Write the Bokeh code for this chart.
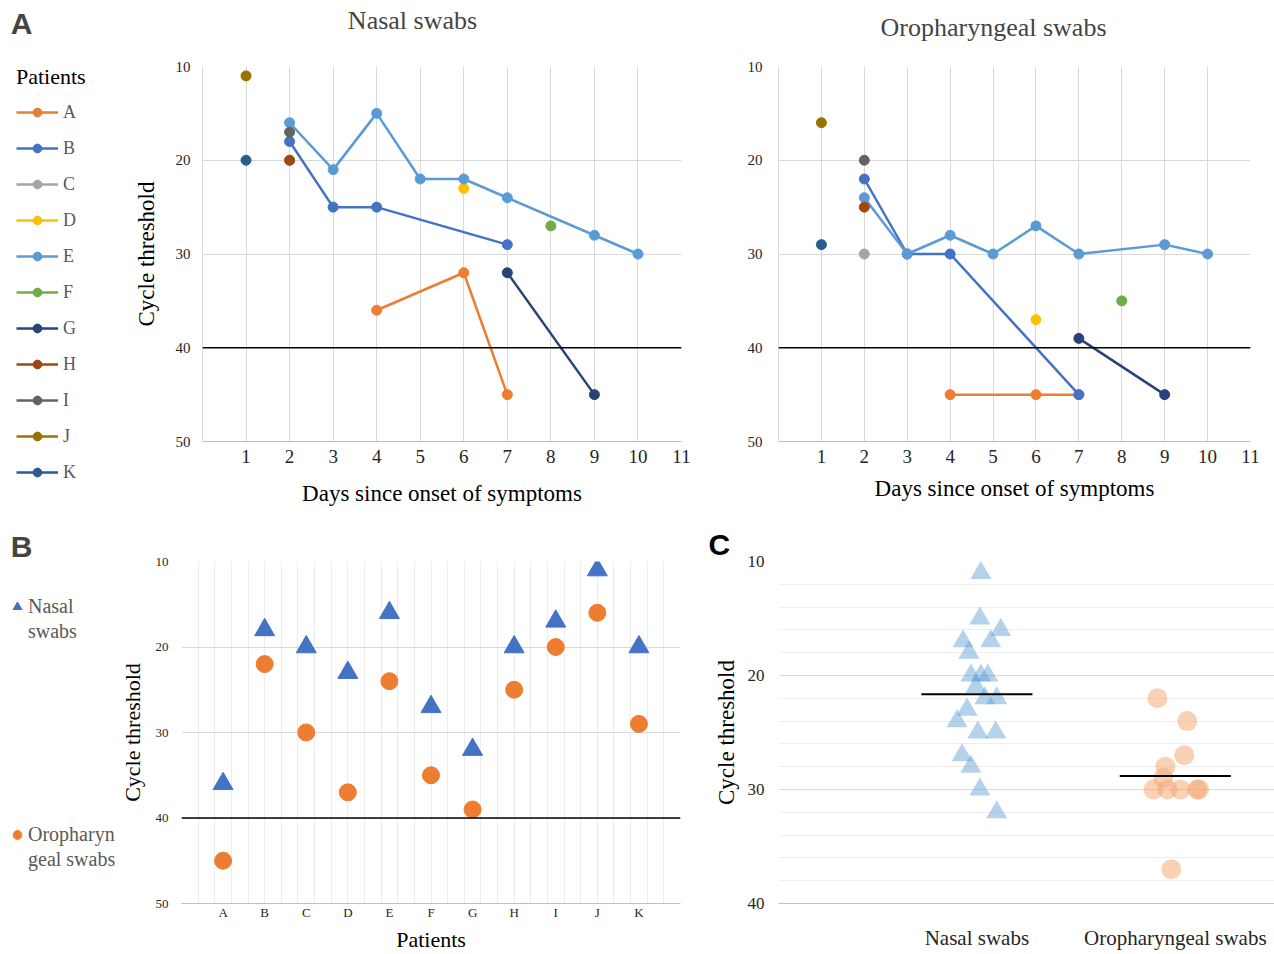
import numpy as np
from bokeh.plotting import figure
from bokeh.models import (Range1d, FixedTicker, SingleIntervalTicker, Span, Label,
                          Legend, LegendItem, Title)
from bokeh.layouts import row, column
from bokeh.embed import file_html
from bokeh.resources import INLINE

# ---------------- data ----------------
patients = ["A", "B", "C", "D", "E", "F", "G", "H", "I", "J", "K"]
patient_colors = ["#ED7D31", "#4472C4", "#A5A5A5", "#FFC000", "#5B9BD5", "#70AD47",
                  "#264478", "#9E480E", "#636363", "#997300", "#255E91"]

# Panel A - nasal swabs (long format)
nasal_patient = ["A", "A", "A", "B", "B", "B", "B", "C", "D",
                 "E", "E", "E", "E", "E", "E", "E", "E", "F", "G", "G", "H", "I", "J", "K"]
nasal_day = [4, 6, 7, 2, 3, 4, 7, 2, 6, 2, 3, 4, 5, 6, 7, 9, 10, 8, 7, 9, 2, 2, 1, 1]
nasal_ct = [36, 32, 45, 18, 25, 25, 29, 20, 23, 16, 21, 15, 22, 22, 24, 28, 30, 27, 32, 45, 20, 17, 11, 20]

# Panel A - oropharyngeal swabs (long format)
oro_patient = ["A", "A", "A", "B", "B", "B", "B", "C", "D",
               "E", "E", "E", "E", "E", "E", "E", "E", "F", "G", "G", "H", "I", "J", "K"]
oro_day = [4, 6, 7, 2, 3, 4, 7, 2, 6, 2, 3, 4, 5, 6, 7, 9, 10, 8, 7, 9, 2, 2, 1, 1]
oro_ct = [45, 45, 45, 22, 30, 30, 45, 30, 37, 24, 30, 28, 30, 27, 30, 29, 30, 35, 39, 45, 25, 20, 16, 29]

# Panel B - per patient
first_nasal_ct = [36, 18, 20, 23, 16, 27, 32, 20, 17, 11, 20]
first_oro_ct = [45, 22, 30, 37, 24, 35, 39, 25, 20, 16, 29]

# Panel C - pooled values
swab_types = ["Nasal swabs", "Oropharyngeal swabs"]
pooled_nasal_ct = [11, 15, 16, 17, 17, 18, 20, 20, 20, 21, 22, 22, 23, 24, 25, 25, 27, 28, 30, 32]
pooled_oro_ct = [22, 24, 27, 28, 29, 30, 30, 30, 30, 30, 37]
# horizontal spread of the swarm (category units)
pooled_nasal_spread = [0.02, 0.015, 0.12, -0.07, 0.07, -0.04, -0.03, 0.02, 0.055, -0.005,
                       0.04, 0.10, -0.05, -0.10, 0.005, 0.095, -0.075, -0.03, 0.015, 0.10]
pooled_oro_spread = [-0.09, 0.06, 0.045, -0.05, -0.06, -0.11, -0.04, 0.025, 0.11, 0.12, -0.02]

day_ticks = list(range(1, 12))
ct_ticks = [10, 20, 30, 40, 50]
detection_limit = 40

# ---------------- style ----------------
SERIF = "Liberation Serif"
SANS = "Liberation Sans"
GRID = "#d9d9d9"
AXIS = "#bfbfbf"
TICK_TXT = "#262626"


def blank(width, height):
    # legend-only canvas; its ranges sit away from the data so only the legend shows
    p = figure(width=width, height=height, x_range=Range1d(1000, 1001), y_range=Range1d(1000, 1001),
               output_backend="svg", toolbar_location=None, tools="",
               x_axis_location=None, y_axis_location=None, min_border=0)
    p.outline_line_color = None
    p.grid.visible = False
    return p


def base_axes(p):
    p.outline_line_color = None
    p.axis.major_tick_out = 0
    p.axis.major_tick_in = 0
    p.axis.minor_tick_out = 0
    p.axis.minor_tick_in = 0
    p.axis.major_tick_line_color = None
    p.axis.minor_tick_line_color = None
    p.axis.major_label_text_font = SERIF
    p.axis.major_label_text_color = TICK_TXT
    p.axis.axis_label_text_font = SERIF
    p.axis.axis_label_text_font_style = "normal"
    p.axis.axis_label_text_color = "black"
    p.axis.axis_label_text_font_size = "23px"
    p.grid.grid_line_color = GRID


def patient_series(pt, days, cts, name):
    xs = [d for d, q in zip(days, pt) if q == name]
    ys = [c for c, q in zip(cts, pt) if q == name]
    return xs, ys


def timecourse(width, left, right, pt, days, cts, ylabel, ytick_standoff, xlabel_standoff):
    p = figure(width=width, height=470, x_range=Range1d(0, 11), y_range=Range1d(50, 10),
               output_backend="svg", toolbar_location=None, tools="",
               min_border_left=left, min_border_right=right, min_border_top=21, min_border_bottom=74)
    base_axes(p)
    p.xaxis.ticker = FixedTicker(ticks=day_ticks)
    p.yaxis.ticker = FixedTicker(ticks=ct_ticks)
    p.xaxis.axis_line_color = AXIS
    p.yaxis.axis_line_color = GRID
    p.xaxis.major_label_text_font_size = "19px"
    p.yaxis.major_label_text_font_size = "15px"
    p.xaxis.major_label_standoff = 8
    p.yaxis.major_label_standoff = ytick_standoff
    p.xaxis.axis_label = "Days since onset of symptoms"
    p.xaxis.axis_label_standoff = xlabel_standoff
    if ylabel:
        p.yaxis.axis_label = ylabel
        p.yaxis.axis_label_standoff = 14
    for name, color in zip(patients, patient_colors):
        xs, ys = patient_series(pt, days, cts, name)
        p.line(xs, ys, line_color=color, line_width=2.5)
        p.scatter(xs, ys, marker="circle", size=10, fill_color=color, line_color=color)
    p.add_layout(Span(location=detection_limit, dimension="width", line_color="black", line_width=1.3))
    return p


# ---------------- heading strip (panel letter A + titles) ----------------
strip = figure(width=1274, height=45, x_range=Range1d(0, 1274), y_range=Range1d(45, 0),
               output_backend="svg", toolbar_location=None, tools="",
               x_axis_location=None, y_axis_location=None, min_border=0)
strip.outline_line_color = None
strip.grid.visible = False
strip.add_layout(Label(x=21, y=23, text="A", text_font=SANS, text_font_style="bold",
                       text_font_size="30px", text_align="center", text_baseline="middle"))
strip.add_layout(Label(x=412, y=20, text="Nasal swabs", text_font=SERIF, text_font_size="26px",
                       text_align="center", text_baseline="middle"))
strip.add_layout(Label(x=993, y=27, text="Oropharyngeal swabs", text_font=SERIF,
                       text_font_size="26px", text_align="center", text_baseline="middle"))

# ---------------- Panel A ----------------
legA_fig = blank(130, 470)
itemsA = []
for name, color in zip(patients, patient_colors):
    xs, ys = patient_series(nasal_patient, nasal_day, nasal_ct, name)
    r_line = legA_fig.line(xs, ys, line_color=color, line_width=2.5)
    r_dot = legA_fig.scatter(xs, ys, marker="circle", size=10, fill_color=color, line_color=color)
    itemsA.append(LegendItem(label=name, renderers=[r_line, r_dot]))
legA = Legend(items=itemsA, location=(16, 32), title="Patients",
              title_text_font=SERIF, title_text_font_size="22px", title_text_font_style="normal",
              title_text_color="black", title_standoff=11,
              label_text_font=SERIF, label_text_font_size="18px", label_text_color="#595959",
              glyph_width=42, glyph_height=22, label_height=22, label_standoff=5, spacing=14,
              padding=0, margin=0, border_line_color=None, background_fill_alpha=0)
legA_fig.add_layout(legA)

pA1 = timecourse(590, 70, 39, nasal_patient, nasal_day, nasal_ct, "Cycle threshold", 12, 15)
pA2 = timecourse(554, 58, 24, oro_patient, oro_day, oro_ct, None, 16, 10)

# ---------------- Panel B ----------------
positions = list(range(1, len(patients) + 1))

legB_fig = blank(116, 439)
legB_fig.add_layout(Label(x=21, y=408, x_units="screen", y_units="screen", text="B",
                          text_font=SANS, text_font_style="bold", text_font_size="30px",
                          text_align="center", text_baseline="middle"))
r_leg_n = legB_fig.scatter(positions, first_nasal_ct, marker="triangle", size=20,
                           fill_color="#4472C4", line_color="#4472C4")
r_leg_o = legB_fig.scatter(positions, first_oro_ct, marker="circle", size=17,
                           fill_color="#ED7D31", line_color="#ED7D31")
r_wrap = legB_fig.scatter(x=[], y=[], marker="circle")  # continuation line of a wrapped label


def wrapped_legend(first_line, second_line, renderer, bottom):
    return Legend(items=[LegendItem(label=first_line, renderers=[renderer]),
                         LegendItem(label=second_line, renderers=[r_wrap])],
                  location=(6, bottom), spacing=0,
                  label_text_font=SERIF, label_text_font_size="20px", label_text_color="#595959",
                  glyph_width=22, glyph_height=25, label_height=25, label_standoff=0,
                  padding=0, margin=0, border_line_color=None, background_fill_alpha=0)


legB_fig.add_layout(wrapped_legend("Nasal", "swabs", r_leg_n, 310))
legB_fig.add_layout(wrapped_legend("Oropharyn", "geal swabs", r_leg_o, 82))

pB = figure(width=589, height=439, x_range=Range1d(0, 12), y_range=Range1d(50, 10),
            output_backend="svg", toolbar_location=None, tools="",
            min_border_left=64, min_border_right=25, min_border_top=46, min_border_bottom=51)
base_axes(pB)
pB.xaxis.ticker = FixedTicker(ticks=positions)
pB.xaxis.major_label_overrides = {pos: name for pos, name in zip(positions, patients)}
pB.xgrid.ticker = SingleIntervalTicker(interval=0.4, num_minor_ticks=0)
pB.xgrid.grid_line_color = "#ececec"
pB.yaxis.ticker = FixedTicker(ticks=ct_ticks)
pB.xaxis.axis_line_color = AXIS
pB.yaxis.axis_line_color = None
pB.axis.major_label_text_font_size = "13px"
pB.yaxis.major_label_standoff = 13
pB.xaxis.major_label_standoff = 1
pB.yaxis.axis_label = "Cycle threshold"
pB.yaxis.axis_label_standoff = 8
pB.yaxis.axis_label_text_font_size = "22px"
pB.xaxis.axis_label = "Patients"
pB.xaxis.axis_label_standoff = 4
pB.xaxis.axis_label_text_font_size = "22px"
pB.add_layout(Span(location=detection_limit, dimension="width", line_color="black", line_width=1.3))
pB.scatter(positions, first_nasal_ct, marker="triangle", size=20,
           fill_color="#4472C4", line_color="#4472C4")
pB.scatter(positions, first_oro_ct, marker="circle", size=17,
           fill_color="#ED7D31", line_color="#ED7D31")

# ---------------- Panel C ----------------
pC = figure(width=569, height=439, x_range=Range1d(0, 2.5), y_range=Range1d(40, 10),
            output_backend="svg", toolbar_location=None, tools="",
            min_border_left=73, min_border_right=0, min_border_top=46, min_border_bottom=51)
base_axes(pC)
pC.yaxis.ticker = SingleIntervalTicker(interval=10, num_minor_ticks=5)
pC.ygrid.minor_grid_line_color = "#eeeeee"
pC.xgrid.grid_line_color = None
pC.xaxis.ticker = FixedTicker(ticks=[1, 2])
pC.xaxis.major_label_overrides = {1: swab_types[0], 2: swab_types[1]}
pC.xaxis.axis_line_color = AXIS
pC.yaxis.axis_line_color = None
pC.yaxis.major_label_text_font_size = "17px"
pC.xaxis.major_label_text_font_size = "21px"
pC.yaxis.major_label_standoff = 14
pC.xaxis.major_label_standoff = 22
pC.yaxis.axis_label = "Cycle threshold"
pC.yaxis.axis_label_standoff = 6

pC.scatter([1 + o for o in pooled_nasal_spread], pooled_nasal_ct, marker="triangle", size=21,
           fill_color="#5B9BD5", fill_alpha=0.45, line_color=None)
pC.scatter([2 + o for o in pooled_oro_spread], pooled_oro_ct, marker="circle", size=20,
           fill_color="#F4A46C", fill_alpha=0.5, line_color=None)
means = [float(np.mean(pooled_nasal_ct)), float(np.mean(pooled_oro_ct))]
half = 0.28
pC.segment(x0=[1 - half, 2 - half], y0=means, x1=[1 + half, 2 + half], y1=means,
           line_color="black", line_width=2)
pC.add_layout(Title(text="C", align="left", offset=-70, vertical_align="middle", standoff=0,
                    text_font=SANS, text_font_style="bold", text_font_size="30px",
                    text_color="black"), "above")

layout = column(strip,
                row(legA_fig, row(pA1, pA2)),
                row(legB_fig, row(pB, pC)))
open("out.html", "w").write(file_html(layout, INLINE))
